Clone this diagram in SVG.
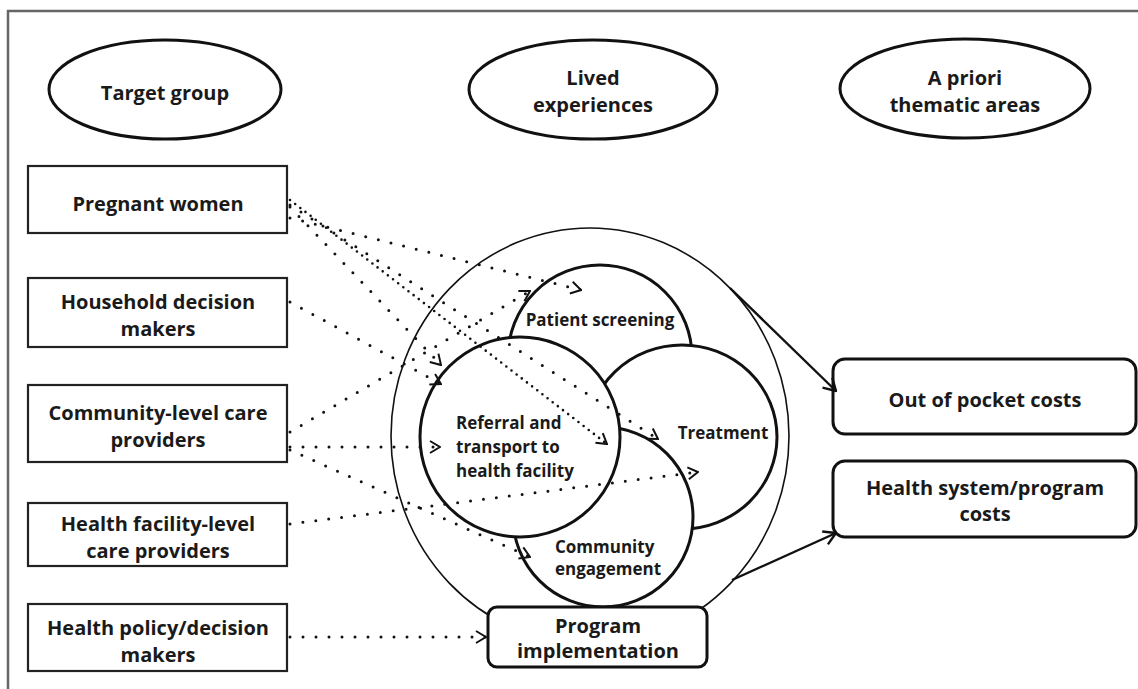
<svg xmlns="http://www.w3.org/2000/svg" width="1138" height="689" viewBox="0 0 1138 689">
<style>
  .t { font-family: "Open Sans", "Noto Sans", "Liberation Sans", sans-serif; font-weight: 700; fill: #1a1a1a; }
  .big { font-size: 20px; }
  .small { font-size: 17px; }
  .mid { text-anchor: middle; }
  .hdr { fill: #fff; stroke: #111; stroke-width: 3; }
  .box { fill: #fff; stroke: #222; stroke-width: 2.2; }
  .rbox { fill: #fff; stroke: #111; stroke-width: 3; }
  .circ { fill: #fff; stroke: #111; stroke-width: 3; }
  .outer { fill: none; stroke: #111; stroke-width: 1.6; }
  .dot { fill: none; stroke: #111; stroke-width: 3; stroke-linecap: round; stroke-dasharray: 0 13; }
  .dense { fill: none; stroke: #111; stroke-width: 2.6; stroke-linecap: round; stroke-dasharray: 0 6.5; }
  .solid { fill: none; stroke: #111; stroke-width: 2.4; }
</style>
<defs>
  <marker id="chev" viewBox="0 0 12 14" refX="11" refY="7" markerWidth="12" markerHeight="14" markerUnits="userSpaceOnUse" orient="auto">
    <path d="M1,1 L11,7 L1,13" fill="none" stroke="#111" stroke-width="2"/>
  </marker>
  <marker id="arr" viewBox="0 0 14 16" refX="13" refY="8" markerWidth="14" markerHeight="16" markerUnits="userSpaceOnUse" orient="auto">
    <path d="M1,1 L13,8 L1,15" fill="none" stroke="#111" stroke-width="2.4"/>
  </marker>
</defs>
<rect x="0" y="0" width="1138" height="689" fill="#fff"/>
<path d="M8,689 L8,11 L1138,11" fill="none" stroke="#666" stroke-width="2.5"/>

<g id="hdr-target">
  <ellipse class="hdr" cx="165" cy="89.5" rx="116" ry="49.5"/>
  <text class="t big mid" x="165" y="100">Target group</text>
</g>
<g id="hdr-lived">
  <ellipse class="hdr" cx="593" cy="89.5" rx="124" ry="49.5"/>
  <text class="t big mid" x="593" y="85">Lived</text>
  <text class="t big mid" x="593" y="112">experiences</text>
</g>
<g id="hdr-apriori">
  <ellipse class="hdr" cx="965" cy="88.5" rx="125" ry="49.5"/>
  <text class="t big mid" x="965" y="85">A priori</text>
  <text class="t big mid" x="965" y="112">thematic areas</text>
</g>

<g id="pregnant-women">
  <rect class="box" x="28" y="166" width="259" height="67"/>
  <text class="t big mid" x="158" y="211">Pregnant women</text>
</g>
<g id="household">
  <rect class="box" x="28" y="278" width="259" height="69"/>
  <text class="t big mid" x="158" y="309">Household decision</text>
  <text class="t big mid" x="158" y="336">makers</text>
</g>
<g id="community-providers">
  <rect class="box" x="28" y="385" width="259" height="77"/>
  <text class="t big mid" x="158" y="420">Community-level care</text>
  <text class="t big mid" x="158" y="447">providers</text>
</g>
<g id="facility-providers">
  <rect class="box" x="28" y="503" width="259" height="63"/>
  <text class="t big mid" x="158" y="531">Health facility-level</text>
  <text class="t big mid" x="158" y="558">care providers</text>
</g>
<g id="policy-makers">
  <rect class="box" x="28" y="604" width="259" height="67"/>
  <text class="t big mid" x="158" y="635">Health policy/decision</text>
  <text class="t big mid" x="158" y="662">makers</text>
</g>

<g id="lived-boundary">
  <ellipse class="outer" cx="590" cy="436" rx="199" ry="208"/>
</g>
<g id="patient-screening">
  <circle class="circ" cx="600" cy="357" r="92"/>
  <text class="t small mid" x="600" y="326">Patient screening</text>
</g>
<g id="treatment">
  <ellipse class="circ" cx="682" cy="437" rx="95" ry="92"/>
  <text class="t small mid" x="723" y="439">Treatment</text>
</g>
<g id="community-engagement">
  <circle class="circ" cx="603" cy="517" r="90"/>
  <text class="t small" x="555" y="553">Community</text>
  <text class="t small" x="555" y="575">engagement</text>
</g>
<g id="referral">
  <circle class="circ" cx="520" cy="437" r="100"/>
  <text class="t small" x="456" y="429">Referral and</text>
  <text class="t small" x="456" y="453">transport to</text>
  <text class="t small" x="456" y="477">health facility</text>
</g>
<g id="program-implementation">
  <rect class="rbox" x="488" y="607" width="219" height="60" rx="9"/>
  <text class="t big mid" x="598" y="633">Program</text>
  <text class="t big mid" x="598" y="658">implementation</text>
</g>

<g id="out-of-pocket">
  <rect class="rbox" x="833" y="359" width="303" height="75" rx="12"/>
  <text class="t big mid" x="985" y="407">Out of pocket costs</text>
</g>
<g id="health-system">
  <rect class="rbox" x="833" y="461" width="303" height="76" rx="12"/>
  <text class="t big mid" x="985" y="495">Health system/program</text>
  <text class="t big mid" x="985" y="521">costs</text>
</g>

<g id="connectors">
  <path class="dot" d="M290,218 L581,290" marker-end="url(#chev)"/>
  <path class="dot" d="M290,207 L441,365" marker-end="url(#chev)"/>
  <path class="dense" d="M290,200 L607,444" marker-end="url(#chev)"/>
  <path class="dot" d="M290,205 L658,439" marker-end="url(#chev)"/>
  <path class="dot" d="M290,302 L441,384" marker-end="url(#chev)"/>
  <path class="dot" d="M290,432 L530,291" marker-end="url(#chev)"/>
  <path class="dot" d="M290,447 L440,447" marker-end="url(#chev)"/>
  <path class="dot" d="M290,450 L530,557" marker-end="url(#chev)"/>
  <path class="dot" d="M290,524 L698,472" marker-end="url(#chev)"/>
  <path class="dot" d="M290,637 L486,637" marker-end="url(#chev)"/>
  <path class="solid" d="M730,288 L836,391" marker-end="url(#arr)"/>
  <path class="solid" d="M732,580 L836,533" marker-end="url(#arr)"/>
</g>
</svg>
